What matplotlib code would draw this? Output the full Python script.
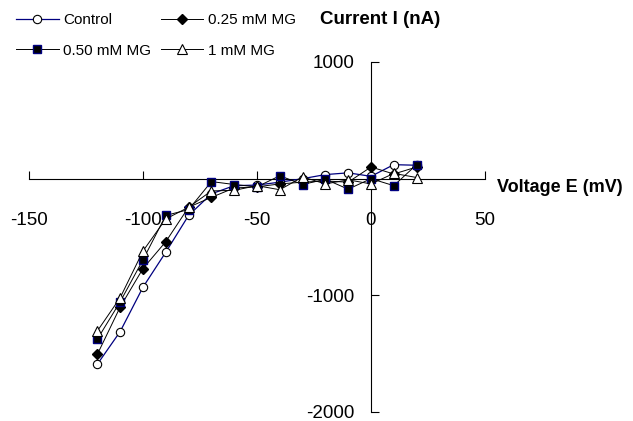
import matplotlib
matplotlib.use("Agg")
import matplotlib.pyplot as plt

plt.rcParams["font.family"] = ["Liberation Sans", "DejaVu Sans"]
plt.rcParams["axes.unicode_minus"] = False

# membrane potential steps (mV)
voltage = [-120, -110, -100, -90, -80, -70, -60, -50, -40, -30, -20, -10, 0, 10, 20]

# current (nA) for each condition
control = [-1590, -1310, -930, -630, -315, -130, -60, -55, -30, 0, 35, 50, 20, 120, 115]
mg_025 = [-1505, -1100, -770, -540, -245, -160, -80, -70, -45, -30, -20, -30, 100, 40, 100]
mg_050 = [-1375, -1055, -695, -315, -265, -25, -50, -70, 25, -50, -5, -90, 0, -60, 120]
mg_1 = [-1305, -1020, -620, -345, -245, -105, -100, -60, -95, 15, -45, -10, -45, 45, 10]

x_ticks = [-150, -100, -50, 0, 50]
y_ticks = [-2000, -1000, 1000]

fig = plt.figure(figsize=(6.33, 4.21), dpi=100)
ax = fig.add_axes([29 / 633, 9 / 421, 456 / 633, 350 / 421])

l_ctrl, = ax.plot(voltage, control, color="#000080", lw=0.9, marker="o", ms=6,
                  mfc="white", mec="black", mew=0.8, label="Control", zorder=3)
l_025, = ax.plot(voltage, mg_025, color="black", lw=0.7, marker="D", ms=5.5,
                 mfc="black", mec="black", label="0.25 mM MG", zorder=4)
l_050, = ax.plot(voltage, mg_050, color="black", lw=0.7, marker="s", ms=6,
                 mfc="black", mec="#000080", mew=1.0, label="0.50 mM MG", zorder=5)
l_1, = ax.plot(voltage, mg_1, color="black", lw=0.7, marker="^", ms=7,
               mfc="white", mec="black", mew=0.8, label="1 mM MG", zorder=6)

ax.set_xlim(-150, 50)
ax.set_ylim(-2000, 1000)

# axes crossing at the origin
ax.spines["left"].set_position(("data", 0))
ax.spines["bottom"].set_position(("data", 0))
ax.spines["top"].set_visible(False)
ax.spines["right"].set_visible(False)
for s in ("left", "bottom"):
    ax.spines[s].set_linewidth(0.8)

ax.set_xticks(x_ticks)
ax.set_yticks(y_ticks)
ax.tick_params(axis="x", direction="in", length=6, width=0.8, labelsize=13.5, pad=24)
ax.tick_params(axis="y", direction="in", length=6, width=0.8, labelsize=13.5, pad=12)

fig.text(380 / 633, 1 - 20 / 421, "Current I (nA)", ha="center", va="center",
         fontsize=13.5, fontweight="bold")
fig.text(497 / 633, 1 - 188 / 421, "Voltage E (mV)", ha="left", va="center",
         fontsize=13, fontweight="bold")

# row-wise legend: Control, 0.25 / 0.50, 1
fig.legend([l_ctrl, l_050, l_025, l_1],
           ["Control", "0.50 mM MG", "0.25 mM MG", "1 mM MG"],
           loc="upper left", bbox_to_anchor=(16 / 633, 1 - 13 / 421), ncol=2,
           frameon=False, fontsize=11, borderpad=0, borderaxespad=0,
           handlelength=2.8, handletextpad=0.3, columnspacing=0.6,
           labelspacing=1.1)

fig.savefig("out.png", dpi=100)
